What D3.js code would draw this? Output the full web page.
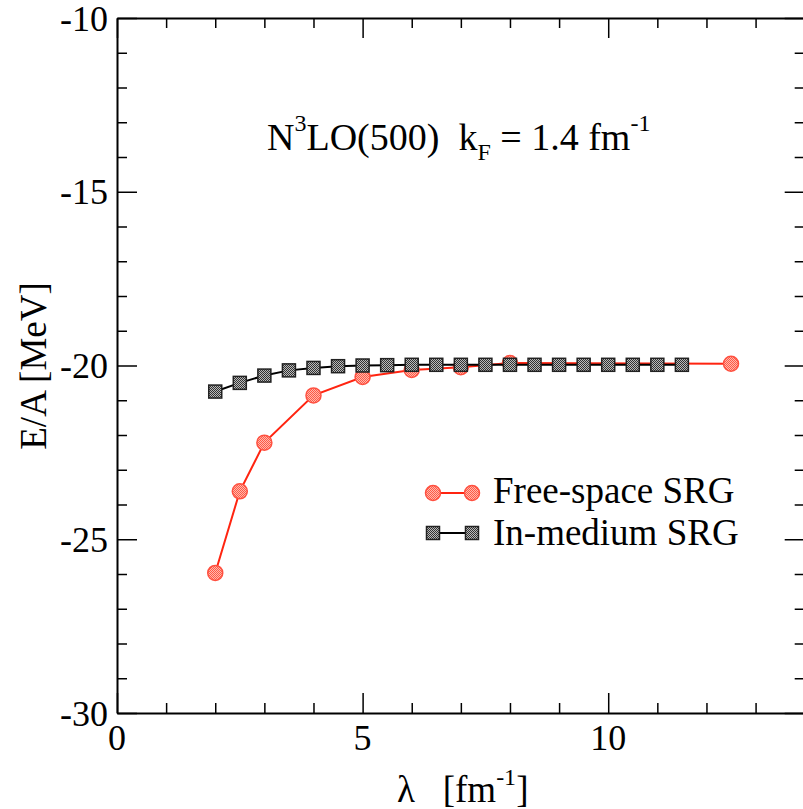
<!DOCTYPE html>
<html lang="en">
<head>
    <meta charset="UTF-8">
    <title>E/A vs lambda</title>
    <script src="https://d3js.org/d3.v7.min.js"></script>
    <style>
        body { margin: 0; background: #fff; }
        text { font-family: "Liberation Serif", "Times New Roman", serif; fill: #000; white-space: pre; }
    </style>
</head>
<body>

<svg width="803" height="809"></svg>

<script>
    // free-space SRG (red circles)
    var freeLambda = [2, 2.5, 3, 4, 5, 6, 7, 8, 12.5];
    var freeEA = [-25.97, -23.62, -22.22, -20.86, -20.33, -20.13, -20.05, -19.93, -19.95];

    // in-medium SRG (grey squares)
    var medLambda = [2, 2.5, 3, 3.5, 4, 4.5, 5, 5.5, 6, 6.5, 7, 7.5, 8, 8.5, 9, 9.5, 10, 10.5, 11, 11.5];
    var medEA = [-20.75, -20.50, -20.29, -20.14, -20.07, -20.02, -20.00, -19.99, -19.98, -19.98,
                 -19.98, -19.98, -19.98, -19.98, -19.98, -19.98, -19.98, -19.98, -19.98, -19.98];

    var xTicks = [0, 5, 10];
    var yTicks = [-10, -15, -20, -25, -30];

    var svg = d3.select('svg');
    // plot box (right edge sits just past the window)
    var padL = 117, padR = 804.7, padT = 18, padB = 713;
    var fs = 36;

    var x = d3.scaleLinear().domain([0, 14]).range([padL, padR]);
    var y = d3.scaleLinear().domain([-30, -10]).range([padB, padT]);

    // patterns for the dotted marker fills
    var defs = svg.append('defs');
    var pr = defs.append('pattern').attr('id', 'dotRed').attr('width', 2).attr('height', 2)
        .attr('patternUnits', 'userSpaceOnUse');
    pr.append('rect').attr('width', 2).attr('height', 2).attr('fill', '#ffb8ae');
    pr.append('rect').attr('width', 1).attr('height', 1).attr('fill', '#ff5a45');
    pr.append('rect').attr('x', 1).attr('y', 1).attr('width', 1).attr('height', 1).attr('fill', '#ff5a45');
    var pg = defs.append('pattern').attr('id', 'dotGrey').attr('width', 2).attr('height', 2)
        .attr('patternUnits', 'userSpaceOnUse');
    pg.append('rect').attr('width', 2).attr('height', 2).attr('fill', '#bbbbbb');
    pg.append('rect').attr('width', 1).attr('height', 1).attr('fill', '#333');
    pg.append('rect').attr('x', 1).attr('y', 1).attr('width', 1).attr('height', 1).attr('fill', '#333');

    // axes with inward ticks, mirrored on top and right
    var xMinor = d3.range(0, 14.01, 1);
    var yMinor = d3.range(-30, -9.99, 1);
    var xAxisB = d3.axisBottom(x).tickValues(xMinor).tickFormat('').tickSizeOuter(0);
    var xAxisT = d3.axisTop(x).tickValues(xMinor).tickFormat('').tickSizeOuter(0);
    var yAxisL = d3.axisLeft(y).tickValues(yMinor).tickFormat('').tickSizeOuter(0);
    var yAxisR = d3.axisRight(y).tickValues(yMinor).tickFormat('').tickSizeOuter(0);

    var gB = svg.append('g').attr('transform', 'translate(0,' + padB + ')').call(xAxisB);
    var gT = svg.append('g').attr('transform', 'translate(0,' + padT + ')').call(xAxisT);
    var gL = svg.append('g').attr('transform', 'translate(' + padL + ',0)').call(yAxisL);
    var gR = svg.append('g').attr('transform', 'translate(' + padR + ',0)').call(yAxisR);

    // major ticks are twice as long, all pointing inside
    gB.selectAll('.tick line').attr('y2', function (d) { return d % 5 === 0 ? -20 : -10; });
    gT.selectAll('.tick line').attr('y2', function (d) { return d % 5 === 0 ? 20 : 10; });
    gL.selectAll('.tick line').attr('x2', function (d) { return d % 5 === 0 ? 20 : 10; });
    gR.selectAll('.tick line').attr('x2', function (d) { return d % 5 === 0 ? -20 : -10; });
    svg.selectAll('.domain').attr('stroke', '#000').attr('stroke-width', 2);
    svg.selectAll('.tick line').attr('stroke', '#000').attr('stroke-width', 1.5);

    // tick labels
    svg.append('g').selectAll('text').data(xTicks).enter().append('text')
        .attr('x', function (d) { return x(d); })
        .attr('y', 750)
        .attr('text-anchor', 'middle')
        .attr('font-size', fs)
        .text(function (d) { return d; });
    svg.append('g').selectAll('text').data(yTicks).enter().append('text')
        .attr('x', 108)
        .attr('y', function (d) { return y(d); })
        .attr('dy', '0.35em')
        .attr('text-anchor', 'end')
        .attr('font-size', fs)
        .text(function (d) { return d; });

    // axis titles
    var xt = svg.append('text').attr('x', 397).attr('y', 802).attr('font-size', 37);
    xt.append('tspan').text('λ   [fm');
    xt.append('tspan').attr('dy', -17).attr('font-size', 24).text('-1');
    xt.append('tspan').attr('dy', 17).text(']');

    svg.append('text')
        .attr('transform', 'translate(46,366) rotate(-90)')
        .attr('text-anchor', 'middle')
        .attr('font-size', 37)
        .text('E/A [MeV]');

    // annotation
    var ann = svg.append('text').attr('x', 267).attr('y', 150).attr('font-size', 38);
    ann.append('tspan').text('N');
    ann.append('tspan').attr('dy', -19).attr('font-size', 24).text('3');
    ann.append('tspan').attr('dy', 19).text('LO(500)  k');
    ann.append('tspan').attr('dy', 10).attr('font-size', 24).text('F');
    ann.append('tspan').attr('dy', -10).text(' = 1.4 fm');
    ann.append('tspan').attr('dy', -19).attr('font-size', 24).text('-1');

    var line = d3.line()
        .x(function (d) { return x(d[0]); })
        .y(function (d) { return y(d[1]); });

    var freePts = d3.zip(freeLambda, freeEA);
    var medPts = d3.zip(medLambda, medEA);

    // red series first, grey on top
    svg.append('path').datum(freePts).attr('d', line)
        .attr('fill', 'none').attr('stroke', '#ff2410').attr('stroke-width', 2);
    svg.append('g').selectAll('circle').data(freePts).enter().append('circle')
        .attr('cx', function (d) { return x(d[0]); })
        .attr('cy', function (d) { return y(d[1]); })
        .attr('r', 7.5)
        .attr('fill', 'url(#dotRed)')
        .attr('stroke', '#ff5040').attr('stroke-width', 1.5);

    svg.append('path').datum(medPts).attr('d', line)
        .attr('fill', 'none').attr('stroke', '#000').attr('stroke-width', 2);
    svg.append('g').selectAll('rect').data(medPts).enter().append('rect')
        .attr('x', function (d) { return x(d[0]) - 6.5; })
        .attr('y', function (d) { return y(d[1]) - 6.5; })
        .attr('width', 13).attr('height', 13)
        .attr('fill', 'url(#dotGrey)')
        .attr('stroke', '#222').attr('stroke-width', 1.5);

    // legend
    var leg = svg.append('g');
    leg.append('line').attr('x1', 433).attr('x2', 472).attr('y1', 493).attr('y2', 493)
        .attr('stroke', '#ff2410').attr('stroke-width', 2);
    leg.selectAll('circle').data([433, 472]).enter().append('circle')
        .attr('cx', function (d) { return d; }).attr('cy', 493).attr('r', 7.5)
        .attr('fill', 'url(#dotRed)').attr('stroke', '#ff5040').attr('stroke-width', 1.5);
    leg.append('text').attr('x', 493).attr('y', 503).attr('font-size', 37).text('Free-space SRG');

    leg.append('line').attr('x1', 433).attr('x2', 472).attr('y1', 533).attr('y2', 533)
        .attr('stroke', '#000').attr('stroke-width', 2);
    leg.selectAll('rect').data([433, 472]).enter().append('rect')
        .attr('x', function (d) { return d - 6.5; }).attr('y', 533 - 6.5)
        .attr('width', 13).attr('height', 13)
        .attr('fill', 'url(#dotGrey)').attr('stroke', '#222').attr('stroke-width', 1.5);
    leg.append('text').attr('x', 493).attr('y', 545).attr('font-size', 37).text('In-medium SRG');
</script>
</body>
</html>
